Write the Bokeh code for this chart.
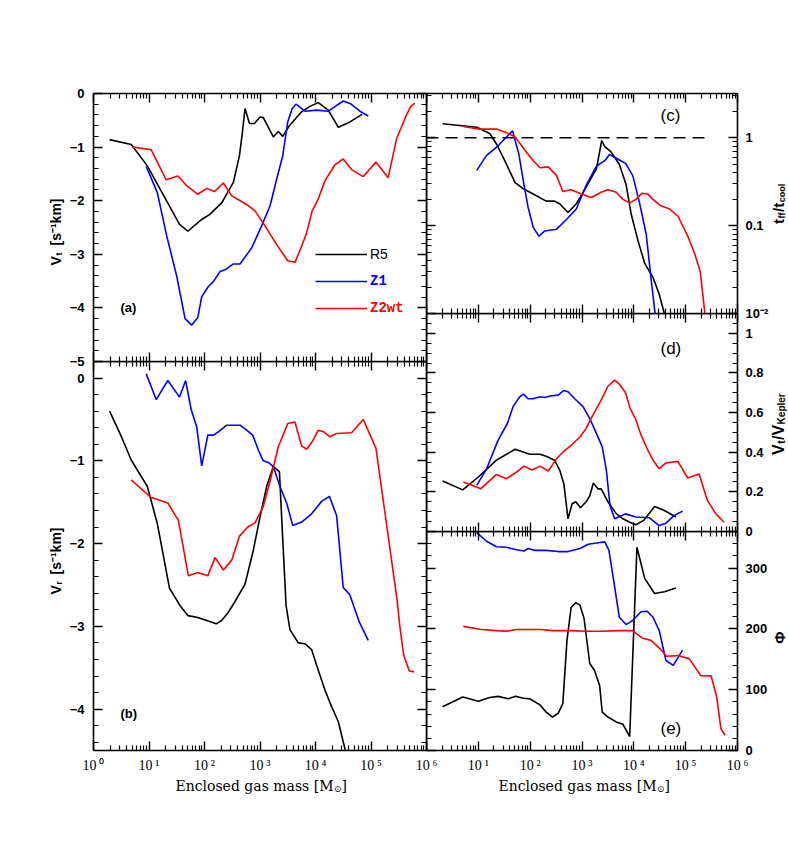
import numpy as np
from bokeh.plotting import figure
from bokeh.models import (LogAxis, LinearAxis, FixedTicker, CustomJSTickFormatter, Label,
                          Legend, LegendItem, Range1d)
from bokeh.layouts import row, column
from bokeh.embed import file_html
from bokeh.resources import INLINE

# ---------------- data (log10 of enclosed gas mass) -------------
# panel (a): tangential velocity Vt [s^-1 km]
r5_a_logm = [0.29, 0.68, 0.97, 1.55, 1.70, 1.95, 2.09, 2.31, 2.52, 2.63, 2.68, 2.73, 2.81, 2.90, 3.00,
             3.06, 3.24, 3.33, 3.41, 3.53, 3.75, 3.90, 4.05, 4.23, 4.41, 4.62, 4.84]
r5_a_v = [-0.86, -0.95, -1.35, -2.44, -2.57, -2.35, -2.26, -2.04, -1.66, -1.16, -0.75, -0.28, -0.56,
          -0.56, -0.44, -0.45, -0.81, -0.71, -0.80, -0.60, -0.34, -0.24, -0.17, -0.31, -0.63, -0.53, -0.39]
z1_a_logm = [0.95, 1.15, 1.32, 1.50, 1.65, 1.77, 1.88, 1.95, 2.07, 2.16, 2.28, 2.37, 2.52, 2.64, 2.85,
             3.03, 3.18, 3.30, 3.41, 3.50, 3.58, 3.65, 3.81, 4.02, 4.23, 4.50, 4.63, 4.80, 4.95]
z1_a_v = [-1.36, -1.85, -2.66, -3.41, -4.20, -4.32, -4.18, -3.79, -3.60, -3.51, -3.32, -3.29, -3.18,
          -3.18, -2.88, -2.47, -2.10, -1.60, -1.16, -0.53, -0.28, -0.20, -0.33, -0.31, -0.33, -0.14,
          -0.19, -0.33, -0.42]
z2_a_logm = [0.71, 1.04, 1.31, 1.52, 1.68, 1.88, 2.04, 2.18, 2.34, 2.49, 2.76, 2.91, 3.09, 3.30, 3.50,
             3.63, 3.75, 3.84, 3.94, 4.05, 4.17, 4.35, 4.50, 4.65, 4.86, 5.09, 5.31, 5.46, 5.61, 5.71, 5.79]
z2_a_v = [-1.00, -1.05, -1.61, -1.54, -1.72, -1.88, -1.77, -1.83, -1.67, -1.91, -2.07, -2.19, -2.47,
          -2.82, -3.12, -3.15, -2.85, -2.60, -2.19, -1.97, -1.63, -1.33, -1.22, -1.42, -1.55, -1.28,
          -1.57, -0.85, -0.47, -0.25, -0.18]

# panel (b): radial velocity Vr [s^-1 km]
r5_b_logm = [0.29, 0.49, 0.68, 0.97, 1.15, 1.37, 1.56, 1.70, 1.86, 2.04, 2.21, 2.31, 2.43, 2.55, 2.73,
             2.88, 3.00, 3.12, 3.24, 3.35, 3.39, 3.47, 3.54, 3.69, 3.81, 3.93, 4.02, 4.17, 4.29, 4.41, 4.56]
r5_b_v = [-0.40, -0.69, -0.99, -1.31, -1.76, -2.54, -2.75, -2.87, -2.89, -2.93, -2.97, -2.93, -2.83,
          -2.70, -2.49, -2.08, -1.68, -1.31, -1.07, -1.13, -1.68, -2.75, -3.04, -3.20, -3.21, -3.28,
          -3.47, -3.77, -3.97, -4.15, -4.56]
z1_b_logm = [0.95, 1.13, 1.34, 1.55, 1.66, 1.76, 1.86, 1.95, 2.06, 2.16, 2.25, 2.40, 2.64, 2.76, 2.87,
             2.97, 3.06, 3.15, 3.24, 3.36, 3.48, 3.59, 3.75, 3.93, 4.11, 4.25, 4.38, 4.50, 4.62, 4.79, 4.95]
z1_b_v = [0.05, -0.26, -0.03, -0.23, -0.03, -0.38, -0.59, -1.06, -0.69, -0.69, -0.65, -0.57, -0.57,
          -0.63, -0.69, -0.87, -1.00, -1.02, -1.07, -1.31, -1.51, -1.78, -1.74, -1.64, -1.49, -1.43,
          -1.66, -2.53, -2.62, -2.95, -3.17]
z2_b_logm = [0.68, 1.03, 1.34, 1.53, 1.71, 1.88, 2.06, 2.19, 2.34, 2.49, 2.63, 2.78, 2.91, 3.06, 3.18,
             3.33, 3.50, 3.63, 3.75, 3.84, 3.94, 4.05, 4.15, 4.26, 4.38, 4.65, 4.86, 5.09, 5.47, 5.52,
             5.59, 5.69, 5.78]
z2_b_v = [-1.23, -1.44, -1.51, -1.72, -2.39, -2.35, -2.39, -2.17, -2.32, -2.20, -1.91, -1.80, -1.75,
          -1.55, -1.25, -0.83, -0.55, -0.53, -0.82, -0.86, -0.77, -0.63, -0.65, -0.71, -0.67, -0.66,
          -0.50, -0.85, -2.68, -3.00, -3.35, -3.54, -3.55]

# panel (c): log10 of t_ff / t_cool
r5_c_logm = [0.31, 0.97, 1.22, 1.35, 1.51, 1.71, 1.87, 2.12, 2.31, 2.47, 2.57, 2.73, 2.89, 3.08, 3.28,
             3.38, 3.44, 3.56, 3.72, 3.85, 3.95, 4.08, 4.21, 4.37, 4.49, 4.61]
r5_c_logv = [0.16, 0.12, 0.05, -0.07, -0.26, -0.51, -0.58, -0.66, -0.72, -0.72, -0.75, -0.85, -0.75,
             -0.56, -0.35, -0.03, -0.10, -0.16, -0.30, -0.53, -0.87, -1.17, -1.43, -1.59, -1.78, -2.05]
z1_c_logm = [0.97, 1.16, 1.38, 1.66, 1.78, 1.88, 1.96, 2.06, 2.17, 2.28, 2.51, 2.70, 2.89, 3.08, 3.28,
             3.44, 3.53, 3.69, 3.84, 3.98, 4.11, 4.24, 4.33, 4.42]
z1_c_logv = [-0.37, -0.20, -0.09, 0.08, -0.18, -0.53, -0.79, -1.02, -1.12, -1.06, -1.04, -0.93, -0.81,
             -0.54, -0.32, -0.26, -0.19, -0.24, -0.29, -0.43, -0.74, -1.10, -1.59, -2.05]
z2_c_logm = [0.71, 1.00, 1.35, 1.54, 1.71, 1.90, 2.06, 2.19, 2.35, 2.51, 2.63, 2.79, 2.99, 3.18, 3.37,
             3.50, 3.66, 3.79, 3.92, 4.04, 4.16, 4.27, 4.37, 4.51, 4.69, 4.85, 5.04, 5.17, 5.28, 5.33, 5.38]
z2_c_logv = [0.13, 0.10, 0.10, 0.06, 0.01, -0.14, -0.26, -0.34, -0.33, -0.43, -0.61, -0.59, -0.64,
             -0.68, -0.62, -0.59, -0.62, -0.70, -0.74, -0.70, -0.63, -0.64, -0.70, -0.77, -0.81, -0.89,
             -1.12, -1.31, -1.52, -1.78, -2.05]
unity_m = [1.0, 3.0e5]
unity_v = [1.0, 1.0]

# panel (d): Vt / VKepler
r5_d_logm = [0.31, 0.70, 1.00, 1.35, 1.71, 1.99, 2.19, 2.31, 2.47, 2.57, 2.65, 2.73, 2.81, 2.88, 2.97,
             3.08, 3.15, 3.22, 3.31, 3.37, 3.50, 3.66, 3.79, 3.92, 4.04, 4.19, 4.40, 4.59, 4.81]
r5_d_v = [0.255, 0.21, 0.275, 0.36, 0.415, 0.39, 0.39, 0.38, 0.36, 0.31, 0.24, 0.064, 0.14, 0.15, 0.12,
          0.15, 0.18, 0.245, 0.215, 0.215, 0.15, 0.09, 0.064, 0.047, 0.034, 0.056, 0.126, 0.106, 0.073]
z1_d_logm = [0.97, 1.16, 1.38, 1.56, 1.67, 1.80, 1.87, 1.96, 2.06, 2.19, 2.28, 2.41, 2.54, 2.65, 2.73,
             2.86, 3.02, 3.15, 3.28, 3.39, 3.47, 3.54, 3.63, 3.84, 4.04, 4.30, 4.49, 4.62, 4.78, 4.94]
z1_d_v = [0.233, 0.317, 0.46, 0.545, 0.63, 0.68, 0.693, 0.67, 0.67, 0.68, 0.676, 0.685, 0.688, 0.712,
          0.705, 0.67, 0.63, 0.57, 0.494, 0.427, 0.31, 0.13, 0.064, 0.089, 0.073, 0.069, 0.03, 0.042,
          0.081, 0.103]
z2_d_logm = [0.71, 1.05, 1.35, 1.54, 1.71, 1.88, 2.04, 2.19, 2.35, 2.51, 2.63, 2.79, 2.96, 3.08, 3.21,
             3.37, 3.50, 3.63, 3.72, 3.84, 3.93, 4.03, 4.14, 4.27, 4.37, 4.49, 4.62, 4.85, 5.04, 5.26,
             5.42, 5.58, 5.74]
z2_d_v = [0.25, 0.216, 0.288, 0.266, 0.295, 0.33, 0.31, 0.33, 0.305, 0.368, 0.40, 0.435, 0.477, 0.52,
          0.587, 0.663, 0.733, 0.764, 0.744, 0.70, 0.62, 0.57, 0.486, 0.41, 0.36, 0.317, 0.346, 0.354,
          0.27, 0.29, 0.157, 0.09, 0.047]

# panel (e): angle Phi
r5_e_logm = [0.31, 0.70, 1.00, 1.22, 1.38, 1.58, 1.72, 1.87, 1.99, 2.19, 2.31, 2.43, 2.54, 2.63, 2.71,
             2.79, 2.88, 2.96, 3.04, 3.15, 3.24, 3.34, 3.39, 3.50, 3.66, 3.79, 3.92, 4.06, 4.21, 4.40,
             4.59, 4.81]
r5_e_v = [72, 88, 81, 87, 89, 85, 89, 86, 85, 75, 63, 55, 61, 77, 181, 235, 243, 239, 217, 143, 132,
          107, 63, 55, 47, 43, 23, 334, 283, 258, 261, 267]
z1_e_logm = [0.97, 1.16, 1.35, 1.54, 1.74, 1.88, 1.96, 2.09, 2.31, 2.54, 2.73, 2.96, 3.12, 3.28, 3.44,
             3.52, 3.63, 3.72, 3.85, 3.98, 4.14, 4.26, 4.37, 4.49, 4.62, 4.76, 4.94]
z1_e_v = [358, 344, 335, 334, 330, 328, 332, 329, 329, 327, 327, 332, 339, 341, 343, 329, 269, 219, 207,
          214, 228, 229, 219, 197, 148, 140, 165]
z2_e_logm = [0.71, 1.06, 1.35, 1.54, 1.74, 1.99, 2.22, 2.44, 2.76, 3.08, 3.34, 3.72, 3.97, 4.16, 4.33,
             4.51, 4.63, 4.85, 5.07, 5.29, 5.49, 5.60, 5.68, 5.76]
z2_e_v = [204, 199, 197, 196, 199, 199, 199, 197, 197, 196, 196, 197, 197, 185, 181, 167, 155, 156, 151,
          123, 123, 88, 36, 25]

series_names = ["R5", "Z1", "Z2wt"]
series_colors = ["#000000", "#0000ff", "#ff0000"]

# ---------------- helpers ----------------
SANS = "Liberation Sans"
SERIF = "Liberation Serif"
MONO = "Liberation Mono"
TSERIF = "DejaVu Serif"

x_major = [10.0 ** n for n in range(7)]
x_minor = [k * 10.0 ** n for n in range(6) for k in range(2, 10)]

X_FMT = """
const s = ["\u2070", "\u00b9", "\u00b2", "\u00b3", "\u2074", "\u2075", "\u2076"];
const e = Math.round(Math.log10(tick));
if (HIDE0 && e == 0) { return ""; }
return "10\u2009" + s[e];
"""
NEG_FMT = "return tick < 0 ? '\u2212' + Math.abs(tick) : String(tick);"
BLANK_FMT = "return '';"


def style_axis(ax, show, font=SANS, size="13px", fstyle="bold", standoff=8):
    ax.axis_line_width = 1.6
    ax.axis_line_color = "black"
    ax.major_tick_in = 9
    ax.major_tick_out = 0
    ax.minor_tick_in = 5
    ax.minor_tick_out = 0
    ax.major_tick_line_width = 1.4
    ax.minor_tick_line_width = 1.2
    if show:
        ax.major_label_text_font = font
        ax.major_label_text_font_size = size
        ax.major_label_text_font_style = fstyle
        ax.major_label_text_color = "black"
        ax.major_label_standoff = standoff
    else:
        ax.formatter = CustomJSTickFormatter(code=BLANK_FMT)
        ax.major_label_text_font_size = "0px"
        ax.major_label_standoff = 0


def make_panel(ylog, y0, y1, fw, fh, bl, br, bt, bb):
    p = figure(x_axis_type="log", y_axis_type="log" if ylog else "linear",
               x_axis_location=None, y_axis_location=None,
               x_range=Range1d(1, 1e6), y_range=Range1d(y0, y1),
               frame_width=fw, frame_height=fh,
               min_border_left=bl, min_border_right=br, min_border_top=bt, min_border_bottom=bb,
               output_backend="svg", toolbar_location=None,
               background_fill_color=None, border_fill_color=None, outline_line_color=None)
    p.grid.visible = False
    return p


def add_x_axes(p, show_bottom, hide0=False):
    for loc in ("above", "below"):
        ax = LogAxis(ticker=FixedTicker(ticks=x_major, minor_ticks=x_minor))
        show = show_bottom and loc == "below"
        style_axis(ax, show, font=SERIF, size="14px", fstyle="normal", standoff=7)
        if show:
            ax.formatter = CustomJSTickFormatter(code=X_FMT.replace("HIDE0", "true" if hide0 else "false"))
        p.add_layout(ax, loc)


def add_y_axes(p, ylog, ticks, minor, fmt, label_side):
    for loc in ("left", "right"):
        cls = LogAxis if ylog else LinearAxis
        ax = cls(ticker=FixedTicker(ticks=ticks, minor_ticks=minor))
        show = loc == label_side
        style_axis(ax, show, standoff=9 if loc == "left" else 8)
        if show:
            ax.formatter = CustomJSTickFormatter(code=fmt)
        p.add_layout(ax, loc)


def lab(p, sx, sy, text, size, font=SANS, fstyle="normal", align="left", baseline="alphabetic", angle=0.0,
        color="black"):
    p.add_layout(Label(x=sx, y=sy, x_units="screen", y_units="screen", text=text, text_font=font,
                       text_font_size=f"{size}px", text_font_style=fstyle, text_align=align,
                       text_baseline=baseline, angle=angle, text_color=color))


def draw(p, logm, vals, color, logy=False):
    m = 10.0 ** np.asarray(logm)
    v = 10.0 ** np.asarray(vals) if logy else np.asarray(vals, dtype=float)
    return p.line(m, v, line_color=color, line_width=1.6)


UP = np.pi / 2
OV = 12   # vertical overlap between stacked canvases
HO = 16   # horizontal overlap between the two columns
TOP = 93
LEFT = 93

# ---------------- panel (a) ----------------
pa = make_panel(False, -5, 0, 333, 268, LEFT, HO, TOP, OV)
add_x_axes(pa, False)
add_y_axes(pa, False, list(range(-5, 1)), [round(v, 1) for v in np.arange(-5, 0.01, 0.2)], NEG_FMT, "left")
ra = [draw(pa, r5_a_logm, r5_a_v, series_colors[0]),
      draw(pa, z1_a_logm, z1_a_v, series_colors[1]),
      draw(pa, z2_a_logm, z2_a_v, series_colors[2])]
leg_fonts = [(SANS, "normal"), (MONO, "bold"), (MONO, "bold")]
for i, (name, col) in enumerate(zip(series_names, series_colors)):
    lg = Legend(items=[LegendItem(label=name, renderers=[ra[i]])], location=(222, 99 - 27 * i),
                glyph_width=52, glyph_height=16, label_height=16, label_width=10, padding=0, margin=0,
                spacing=0, label_standoff=3, border_line_color=None, background_fill_alpha=0,
                label_text_font=leg_fonts[i][0], label_text_font_style=leg_fonts[i][1],
                label_text_font_size="14px", label_text_color=col)
    pa.add_layout(lg)
lab(pa, 27, 54, "(a)", 13, fstyle="bold", baseline="middle")

# ---------------- panel (b) ----------------
pb = make_panel(False, -4.5, 0.2, 333, 389, LEFT, HO, 0, 55)
pb.margin = (-OV, 0, 0, 0)
add_x_axes(pb, True)
add_y_axes(pb, False, list(range(-4, 1)), [round(v, 1) for v in np.arange(-4.4, 0.21, 0.2)], NEG_FMT, "left")
draw(pb, r5_b_logm, r5_b_v, series_colors[0])
draw(pb, z1_b_logm, z1_b_v, series_colors[1])
draw(pb, z2_b_logm, z2_b_v, series_colors[2])
lab(pb, 27, 37, "(b)", 13, fstyle="bold", baseline="middle")

# ---------------- panel (c) ----------------
pc = make_panel(True, 0.01, 3.2, 311, 220, 0, 50, TOP, OV)
add_x_axes(pc, False)
c_minor = [k * 0.01 for k in range(2, 10)] + [k * 0.1 for k in range(2, 10)] + [2.0, 3.0]
C_FMT = "if (tick > 0.5) { return '1'; } if (tick > 0.05) { return '0.1'; } return '10\u207b\u00b2';"
add_y_axes(pc, True, [0.01, 0.1, 1.0], c_minor, C_FMT, "right")
pc.line(unity_m, unity_v, line_color="black", line_width=1.5, line_dash="12 7")
draw(pc, r5_c_logm, r5_c_logv, series_colors[0], logy=True)
draw(pc, z1_c_logm, z1_c_logv, series_colors[1], logy=True)
draw(pc, z2_c_logm, z2_c_logv, series_colors[2], logy=True)
lab(pc, 234, 198, "(c)", 17, baseline="middle")

# ---------------- panel (d) ----------------
pd_ = make_panel(False, 0, 1.1, 311, 218, 0, 50, 0, OV)
pd_.margin = (-OV, 0, 0, 0)
add_x_axes(pd_, False)
D_FMT = "if (tick == 0) { return '0'; } if (Math.abs(tick - 1) < 1e-9) { return '1'; } return tick.toFixed(1);"
add_y_axes(pd_, False, [0, 0.2, 0.4, 0.6, 0.8, 1.0], [round(v, 2) for v in np.arange(0, 1.101, 0.05)],
           D_FMT, "right")
draw(pd_, r5_d_logm, r5_d_v, series_colors[0])
draw(pd_, z1_d_logm, z1_d_v, series_colors[1])
draw(pd_, z2_d_logm, z2_d_v, series_colors[2])
lab(pd_, 234, 183, "(d)", 17, baseline="middle")

# ---------------- panel (e) ----------------
pe = make_panel(False, 0, 360, 311, 219, 0, 50, 0, 55)
pe.margin = (-OV, 0, 0, 0)
add_x_axes(pe, True, hide0=True)
add_y_axes(pe, False, [0, 100, 200, 300], list(range(0, 361, 20)), "return tick.toFixed(0);", "right")
draw(pe, r5_e_logm, r5_e_v, series_colors[0])
draw(pe, z1_e_logm, z1_e_v, series_colors[1])
draw(pe, z2_e_logm, z2_e_v, series_colors[2])
lab(pe, 234, 22, "(e)", 17, baseline="middle")

# ---------------- overlay figure carrying the axis titles (texts with subscripts) ----------------
PAGE_W, PAGE_H = 788, 805
ov = figure(x_range=Range1d(0, 1), y_range=Range1d(0, 1), frame_width=PAGE_W, frame_height=PAGE_H,
            min_border=0, min_border_left=0, min_border_right=0, min_border_top=0, min_border_bottom=0,
            x_axis_location=None, y_axis_location=None, output_backend="svg", toolbar_location=None,
            background_fill_color=None, border_fill_color=None, outline_line_color=None)
ov.grid.visible = False
ov.margin = (-PAGE_H, 0, 0, 0)


def olab(px, py, text, size, **kw):
    lab(ov, px, PAGE_H - py, text, size, **kw)


# left titles
olab(55, 265, "V", 14, fstyle="bold", angle=UP)
olab(58, 255, "t", 9, fstyle="bold", angle=UP)
olab(55, 245, "[s\u207b\u00b9km]", 14, fstyle="bold", angle=UP)
olab(55, 594, "V", 14, fstyle="bold", angle=UP)
olab(58, 584, "r", 9, fstyle="bold", angle=UP)
olab(55, 574, "[s\u207b\u00b9km]", 14, fstyle="bold", angle=UP)
# bottom titles
for xr in (333, 656):
    olab(xr, 785, "Enclosed gas mass [M", 14, font=TSERIF, align="right")
    olab(xr + 0.5, 788, "\u2299", 9, font=TSERIF)
    olab(xr + 8, 785, "]", 14, font=TSERIF)
# right titles
RX, RS = 778, 781
olab(RX, 223.5, "t", 15, fstyle="bold", angle=UP)
olab(RS, 218, "ff", 9, fstyle="bold", angle=UP)
olab(RX, 211.5, "/t", 15, fstyle="bold", angle=UP)
olab(RS, 201.8, "cool", 9, fstyle="bold", angle=UP)
olab(RX, 454.5, "V", 16, fstyle="bold", angle=UP)
olab(RS, 443.3, "t", 10, fstyle="bold", angle=UP)
olab(RX, 439.5, "/V", 16, fstyle="bold", angle=UP)
olab(RS, 423.9, "Kepler", 10, fstyle="bold", angle=UP)
olab(RX + 1, 637, "\u03a6", 15, fstyle="bold", align="center", angle=UP)

left = column(pa, pb)
right = column(pc, pd_, pe)
right.margin = (0, 0, 0, -HO)
layout = column(row(left, right), ov)

open("out.html", "w").write(file_html(layout, INLINE))
